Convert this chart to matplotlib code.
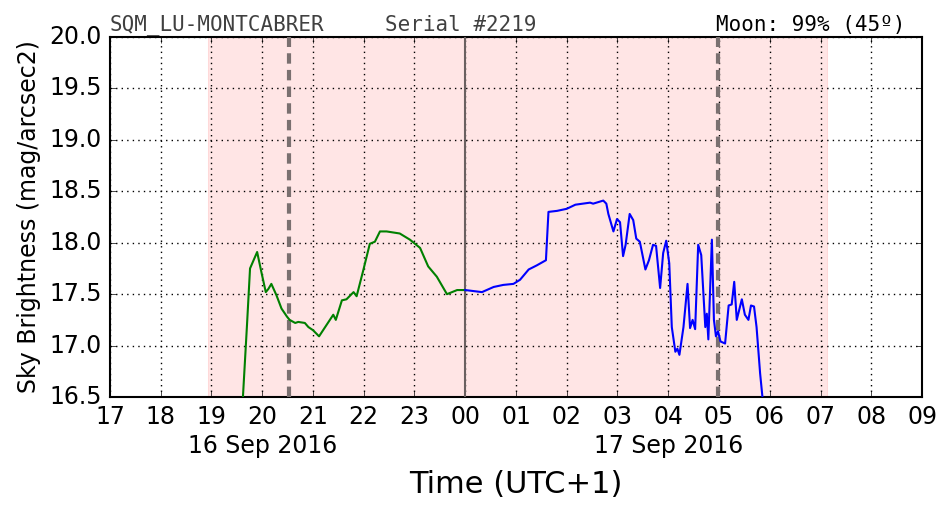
import numpy as np
import matplotlib
matplotlib.use("Agg")
import matplotlib.pyplot as plt
import matplotlib.transforms as mtransforms

plt.style.use("classic")

# hours since 00:00 on 16 Sep 2016 (local, UTC+1)
EVENING_T = [19.62, 19.70, 19.76, 19.90, 19.99, 20.07, 20.12, 20.18, 20.28, 20.38,
             20.49, 20.54, 20.65, 20.71, 20.84, 20.91, 21.00, 21.12, 21.24, 21.40,
             21.45, 21.57, 21.66, 21.80, 21.86, 21.99, 22.12, 22.22, 22.32, 22.45,
             22.71, 22.91, 23.11, 23.27, 23.44, 23.64, 23.84, 24.00]
EVENING_MAG = [16.50, 17.20, 17.75, 17.91, 17.70, 17.52, 17.55, 17.60, 17.49, 17.36,
               17.28, 17.25, 17.22, 17.23, 17.22, 17.18, 17.15, 17.09, 17.18, 17.30,
               17.25, 17.44, 17.45, 17.52, 17.48, 17.73, 17.99, 18.01, 18.11, 18.11,
               18.09, 18.03, 17.95, 17.77, 17.67, 17.50, 17.54, 17.54]

MORNING_T = [24.00, 24.33, 24.56, 24.75, 24.95, 25.08, 25.25, 25.41, 25.59, 25.64,
             25.81, 26.00, 26.17, 26.46, 26.52, 26.72, 26.78, 26.82, 26.92, 26.99,
             27.05, 27.11, 27.16, 27.24, 27.31, 27.37, 27.44, 27.55, 27.62, 27.70,
             27.76, 27.84, 27.90, 27.96, 28.02, 28.07, 28.14, 28.18, 28.22, 28.30,
             28.38, 28.43, 28.48, 28.53, 28.59, 28.65, 28.73, 28.76, 28.79, 28.86,
             28.90, 28.94, 28.98, 29.03, 29.12, 29.19, 29.25, 29.30, 29.35, 29.45,
             29.51, 29.58, 29.63, 29.69, 29.74, 29.81, 29.86]
MORNING_MAG = [17.54, 17.52, 17.57, 17.59, 17.60, 17.64, 17.74, 17.78, 17.83, 18.30,
               18.31, 18.33, 18.37, 18.39, 18.38, 18.41, 18.38, 18.28, 18.11, 18.23,
               18.20, 17.87, 17.98, 18.28, 18.22, 18.04, 18.01, 17.74, 17.83, 17.98,
               17.97, 17.56, 17.90, 18.02, 17.80, 17.18, 16.94, 16.97, 16.91, 17.18,
               17.60, 17.17, 17.25, 17.16, 17.98, 17.88, 17.18, 17.31, 17.06, 18.03,
               17.25, 17.09, 17.14, 17.04, 17.02, 17.39, 17.40, 17.62, 17.25, 17.45,
               17.30, 17.25, 17.39, 17.38, 17.18, 16.73, 16.48]

NIGHT_SPAN = (18.93, 31.13)      # shaded astronomical night
TWILIGHT_MARKS = [20.53, 28.98]  # dashed grey markers
MIDNIGHT = 24.0

HOUR_TICKS = list(range(17, 34))
HOUR_LABELS = ["%02d" % (h % 24) for h in HOUR_TICKS]
DATE_POS = [20, 28]
DATE_LABELS = ["16 Sep 2016", "17 Sep 2016"]

fig = plt.figure(figsize=(9.52, 5.12), dpi=100, facecolor="white")
ax = fig.add_axes([0.1155, 0.2246, 0.853, 0.703])
ax.set_facecolor("white")

ax.axvspan(*NIGHT_SPAN, color="red", alpha=0.1, lw=0.8)
for x in TWILIGHT_MARKS:
    ax.axvline(x, color="#7a7070", lw=3, dashes=(7.5, 4.5), zorder=3)
ax.axvline(MIDNIGHT, color="#6a6060", lw=1.5, zorder=3)

ax.plot(EVENING_T, EVENING_MAG, color="green", lw=1.5, zorder=4)
ax.plot(MORNING_T, MORNING_MAG, color="blue", lw=1.5, zorder=4)

ax.set_xlim(17, 33)
ax.set_ylim(16.5, 20.0)
ax.set_xticks(HOUR_TICKS)
ax.set_xticklabels(HOUR_LABELS, fontsize=17)
yt = np.arange(16.5, 20.01, 0.5)
ax.set_yticks(yt)
ax.set_yticklabels(["%.1f" % v for v in yt], fontsize=17)
ax.tick_params(direction="in", length=4, top=True, right=True, pad=6)
ax.grid(True, color="black", ls=":", lw=1)
for s in ax.spines.values():
    s.set_linewidth(1.5)

trans = mtransforms.blended_transform_factory(ax.transData, ax.transAxes)
for x, lab in zip(DATE_POS, DATE_LABELS):
    ax.text(x, -0.136, lab, transform=trans, fontsize=17, ha="center", va="center")

ax.set_xlabel("Time (UTC+1)", fontsize=22, labelpad=29)
ax.set_ylabel("Sky Brightness (mag/arcsec2)", fontsize=17, labelpad=6)

mono = "DejaVu Sans Mono"
ax.text(0.0, 1.006, "SQM_LU-MONTCABRER", transform=ax.transAxes, family=mono,
        fontsize=15, color="#404040", ha="left", va="bottom")
ax.text(0.339, 1.006, "Serial #2219", transform=ax.transAxes, family=mono,
        fontsize=15, color="#404040", ha="left", va="bottom")
ax.text(0.979, 1.006, "Moon: 99% (45º)", transform=ax.transAxes, family=mono,
        fontsize=15, color="black", ha="right", va="bottom")

fig.savefig("out.png", dpi=100, facecolor="white")
